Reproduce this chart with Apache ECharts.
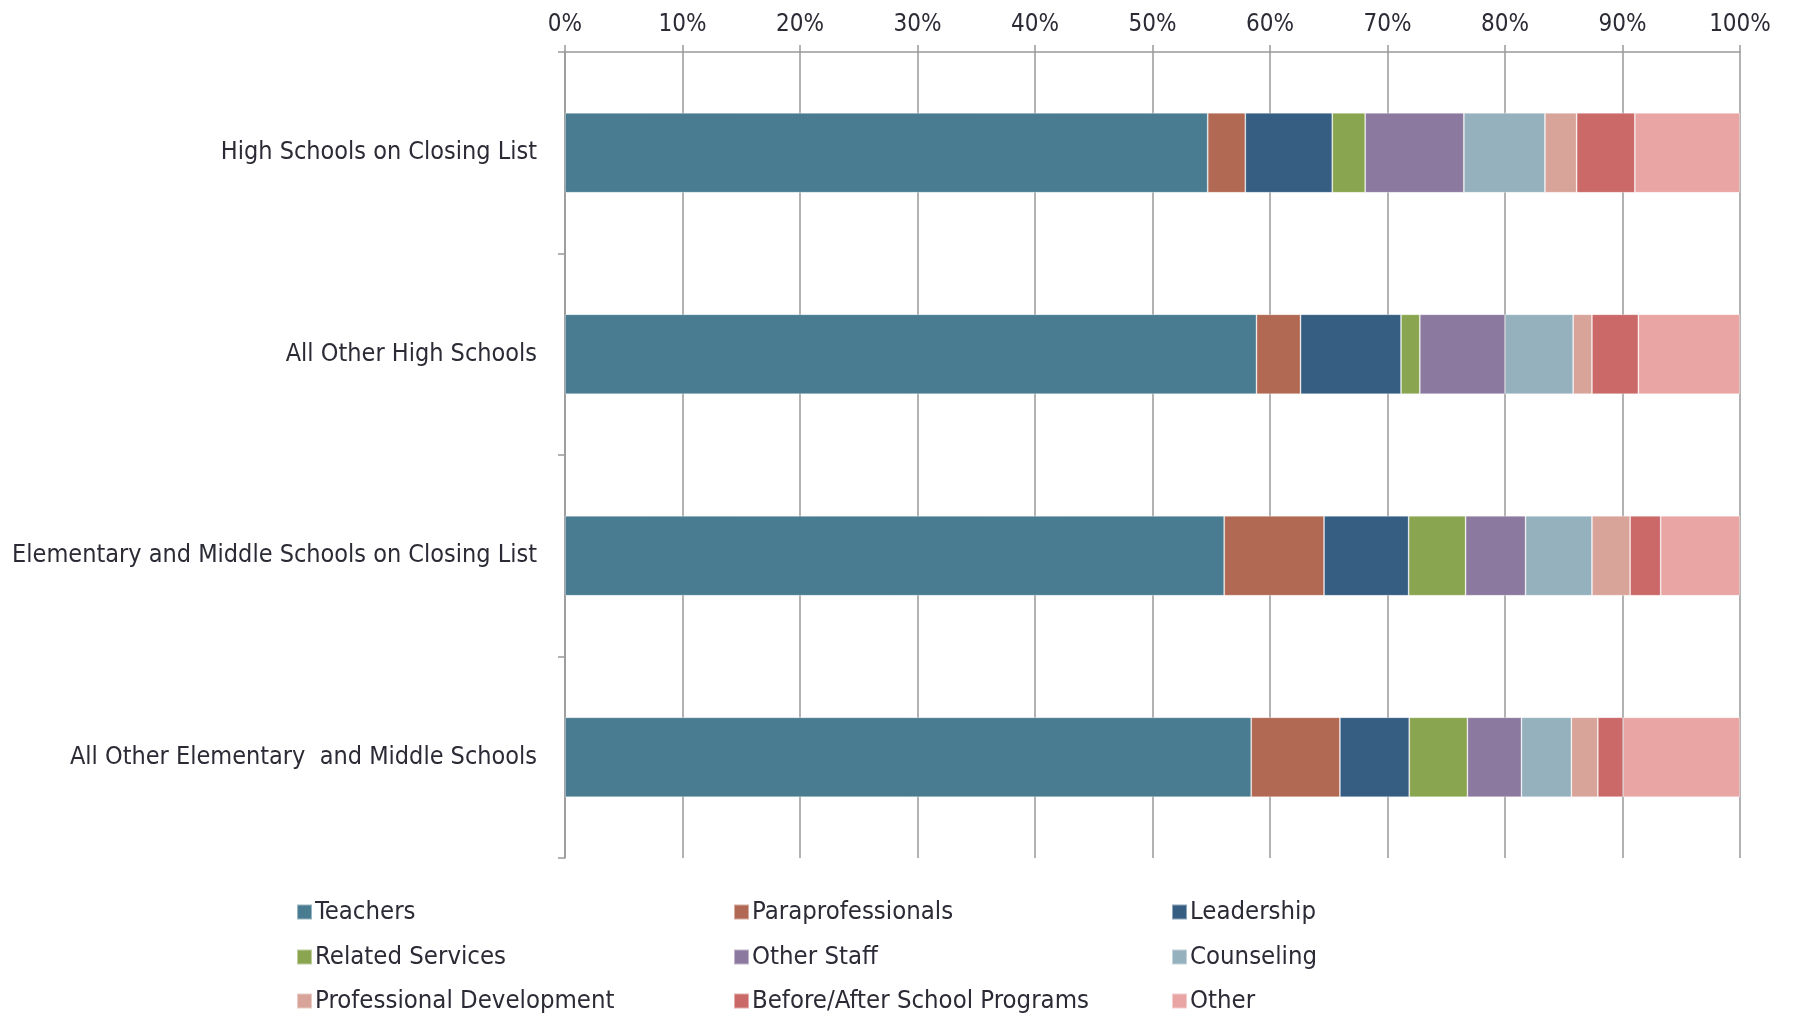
<!DOCTYPE html>
<html>
<head>
<meta charset="utf-8">
<script src="https://cdn.jsdelivr.net/npm/echarts@6/dist/echarts.min.js"></script>
<style>
  html, body { margin: 0; padding: 0; background: #fff; }
  #chart { width: 1793px; height: 1014px; }
</style>
</head>
<body>
<div id="chart"></div>
<script>
const categories = [
    'High Schools on Closing List',
    'All Other High Schools',
    'Elementary and Middle Schools on Closing List',
    'All Other Elementary  and Middle Schools'
];
const xTicks = [0, 10, 20, 30, 40, 50, 60, 70, 80, 90, 100];

const teachers = [54.7, 58.85, 56.1, 58.4];
const paraprofessionals = [3.2, 3.75, 8.5, 7.55];
const leadership = [7.4, 8.55, 7.2, 5.9];
const relatedServices = [2.8, 1.6, 4.85, 4.95];
const otherStaff = [8.4, 7.25, 5.1, 4.6];
const counseling = [6.9, 5.8, 5.65, 4.25];
const professionalDev = [2.7, 1.6, 3.25, 2.25];
const beforeAfter = [4.95, 3.95, 2.6, 2.15];
const other = [8.95, 8.65, 6.75, 9.95];

const seriesList = [
    { name: 'Teachers', data: teachers, color: '#4a7c91' },
    { name: 'Paraprofessionals', data: paraprofessionals, color: '#b26953' },
    { name: 'Leadership', data: leadership, color: '#365d82' },
    { name: 'Related Services', data: relatedServices, color: '#8aa550' },
    { name: 'Other Staff', data: otherStaff, color: '#8c799f' },
    { name: 'Counseling', data: counseling, color: '#95b1be' },
    { name: 'Professional Development', data: professionalDev, color: '#d8a399' },
    { name: 'Before/After School Programs', data: beforeAfter, color: '#cb6868' },
    { name: 'Other', data: other, color: '#e9a4a4' }
];

const font = '"Liberation Sans Narrow", "DejaVu Sans Condensed", "Roboto", sans-serif';
const textColor = '#2b2b36';
const gridColor = '#999999';

// legend: 3 columns x 3 rows, one small legend per item so the columns line up
const legendLeft = [296, 733, 1171];
const legendTop = [899, 944, 988];

const chart = echarts.init(document.getElementById('chart'));
const option = {
    backgroundColor: '#ffffff',
    animation: false,
    textStyle: { fontFamily: font },
    grid: {
        left: 565,
        right: 53,
        top: 52,
        bottom: 156
    },
    legend: seriesList.map((s, i) => ({
        data: [s.name],
        left: legendLeft[i % 3],
        top: legendTop[Math.floor(i / 3)],
        itemWidth: 15,
        itemHeight: 15,
        icon: 'rect',
        padding: 0,
        textStyle: {
            fontFamily: font,
            fontSize: 25.5,
            color: textColor,
            padding: [0, 0, 0, -2]
        }
    })),
    xAxis: {
        type: 'value',
        position: 'top',
        min: 0,
        max: 100,
        interval: 10,
        axisLine: { show: true, lineStyle: { color: gridColor, width: 1.5 } },
        axisTick: { show: true, length: 7, lineStyle: { color: gridColor, width: 1.5 } },
        axisLabel: {
            color: textColor,
            fontSize: 24,
            fontFamily: font,
            margin: 15,
            formatter: v => (xTicks.indexOf(v) >= 0 ? v + '%' : '')
        },
        splitLine: { show: true, lineStyle: { color: gridColor, width: 1.5 } }
    },
    yAxis: {
        type: 'category',
        inverse: true,
        data: categories,
        axisLine: { show: true, lineStyle: { color: gridColor, width: 1.5 } },
        axisTick: { show: true, length: 7, lineStyle: { color: gridColor, width: 1.5 } },
        axisLabel: {
            color: textColor,
            fontSize: 25,
            fontFamily: font,
            margin: 28
        }
    },
    series: seriesList.map(s => ({
        name: s.name,
        type: 'bar',
        stack: 'total',
        barWidth: 80,
        data: s.data,
        itemStyle: {
            color: s.color,
            borderColor: 'rgba(255,255,255,0.45)',
            borderWidth: 0.8
        }
    }))
};
chart.setOption(option);
window.addEventListener('resize', () => {
    chart.resize();
});
</script>
</body>
</html>
